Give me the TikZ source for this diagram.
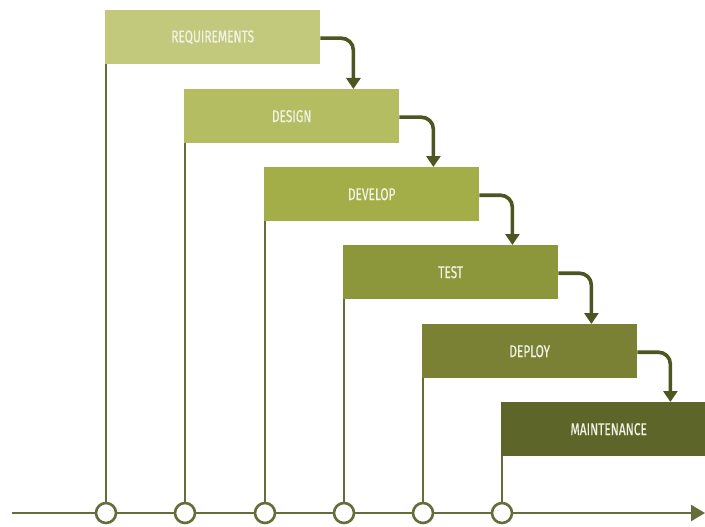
\documentclass[tikz,border=0pt]{standalone}
\usepackage{fontspec}
\newfontfamily\stagefont[FakeStretch=0.7, FakeBold=0.5]{Fira Sans}
\usetikzlibrary{arrows.meta}
\definecolor{c1}{HTML}{C3C97C}
\definecolor{c2}{HTML}{B4BD62}
\definecolor{c3}{HTML}{A3AE48}
\definecolor{c4}{HTML}{8C973C}
\definecolor{c5}{HTML}{7A8135}
\definecolor{c6}{HTML}{5E6529}
\definecolor{flow}{HTML}{4E5422}
\definecolor{axis}{HTML}{666C3A}
\definecolor{label}{HTML}{F1F2E4}
\tikzset{
  stage/.style={draw=none, minimum width=215pt, minimum height=54pt, anchor=north west,
    inner sep=0pt, text=label, font=\stagefont\fontsize{17}{17}\selectfont},
  flowarrow/.style={draw=flow, line width=3.6pt, rounded corners=12pt,
    -{Triangle[width=14pt,length=11pt]}},
  drop/.style={draw=axis, line width=1.8pt},
  milestone/.style={circle, draw=axis, fill=white, line width=2.6pt, minimum size=20pt, inner sep=0pt},
  timeline/.style={draw=axis, line width=2.4pt, -{Triangle[width=16pt,length=14pt]}}
}
\begin{document}
\begin{tikzpicture}[x=1pt,y=-1pt]
\clip (0,0) rectangle (705,527);
\fill[white] (0,0) rectangle (705,527);

% phase boxes
\node[stage, fill=c1] (req) at (105,10)  {REQUIREMENTS};
\node[stage, fill=c2] (des) at (184,89)  {DESIGN};
\node[stage, fill=c3] (dev) at (264,167) {DEVELOP};
\node[stage, fill=c4] (tst) at (343,245) {TEST};
\node[stage, fill=c5] (dep) at (422,324) {DEPLOY};
\node[stage, fill=c6] (mnt) at (501,402) {MAINTENANCE};

% timeline with milestones
\coordinate (tstart) at (12,513);
\coordinate (tend) at (705,513);
\draw[timeline] (tstart) -- (tend);
\foreach \n/\x in {m1/106,m2/185,m3/265,m4/344,m5/423,m6/502}
  \node[milestone] (\n) at (\x,513) {};

% drop lines from each box to its milestone
\draw[drop] (req.south west -| m1.north) -- (m1.north);
\draw[drop] (des.south west -| m2.north) -- (m2.north);
\draw[drop] (dev.south west -| m3.north) -- (m3.north);
\draw[drop] (tst.south west -| m4.north) -- (m4.north);
\draw[drop] (dep.south west -| m5.north) -- (m5.north);
\draw[drop] (mnt.south west -| m6.north) -- (m6.north);

% hand-off arrows between phases
\draw[flowarrow] ([yshift=-1pt]req.east) -| ([xshift=-46pt]des.north east);
\draw[flowarrow] ([yshift=-1pt]des.east) -| ([xshift=-46pt]dev.north east);
\draw[flowarrow] ([yshift=-1pt]dev.east) -| ([xshift=-46pt]tst.north east);
\draw[flowarrow] ([yshift=-1pt]tst.east) -| ([xshift=-46pt]dep.north east);
\draw[flowarrow] ([yshift=-1pt]dep.east) -| ([xshift=-46pt]mnt.north east);
\end{tikzpicture}
\end{document}
